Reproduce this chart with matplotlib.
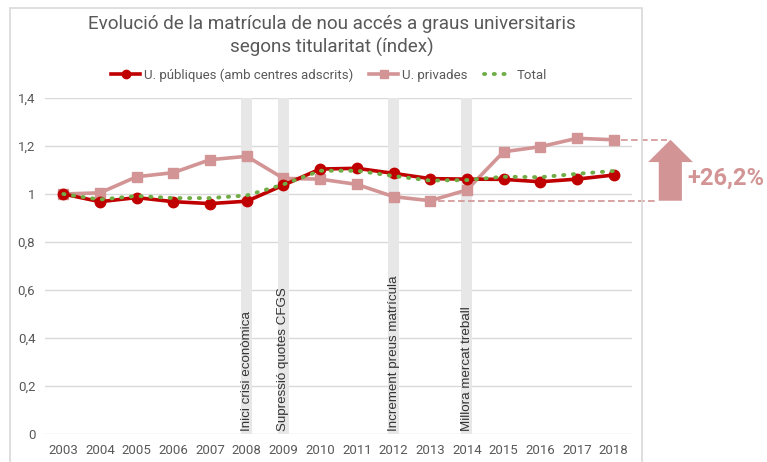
import matplotlib
matplotlib.use("Agg")
import matplotlib.pyplot as plt
from matplotlib.patches import Rectangle, Polygon

years = list(range(2003, 2019))
publiques = [1.0, 0.968, 0.985, 0.968, 0.96, 0.97, 1.037, 1.104, 1.107, 1.086, 1.064, 1.062, 1.061, 1.051, 1.062, 1.079]
privades = [1.0, 1.005, 1.072, 1.089, 1.143, 1.157, 1.065, 1.062, 1.04, 0.989, 0.972, 1.017, 1.176, 1.197, 1.232, 1.226]
total = [1.0, 0.977, 0.992, 0.983, 0.983, 0.994, 1.04, 1.097, 1.097, 1.075, 1.056, 1.058, 1.072, 1.07, 1.084, 1.096]
events = [2008, 2009, 2012, 2014]
event_labels = ["Inici crisi econòmica", "Supressió quotes CFGS", "Increment preus matrícula", "Millora mercat treball"]
yticks = [0, 0.2, 0.4, 0.6, 0.8, 1.0, 1.2, 1.4]
ytick_labels = ["0", "0,2", "0,4", "0,6", "0,8", "1", "1,2", "1,4"]
title = "Evolució de la matrícula de nou accés a graus universitaris\nsegons titularitat (índex)"
names = ["U. públiques (amb centres adscrits)", "U. privades", "Total"]
growth_label = "+26,2%"

plt.rcParams['font.family'] = ['Roboto', 'DejaVu Sans']

W, H = 767, 462
fig = plt.figure(figsize=(W / 100, H / 100), dpi=100)
fig.patch.set_facecolor("white")

# outer frame
fig.add_artist(Rectangle((10 / W, -0.05), (642 - 10) / W, 1.05 - 8 / H,
                         transform=fig.transFigure, fill=False,
                         edgecolor="#d9d9d9", lw=1.2))

ax = fig.add_axes([45 / W, 1 - 434 / H, (632 - 45) / W, (434 - 98) / H])
ax.set_xlim(2002.5, 2018.5)
ax.set_ylim(0, 1.4)
for s in ax.spines.values():
    s.set_visible(False)
ax.set_yticks(yticks)
ax.set_yticklabels(ytick_labels)
ax.set_xticks(years)
ax.set_xticklabels([str(y) for y in years])
ax.tick_params(axis="both", length=0, labelsize=9.5, colors="#595959")
ax.tick_params(axis="y", pad=7)
ax.tick_params(axis="x", pad=7)
ax.grid(axis="y", color="#d9d9d9", lw=1)
ax.set_axisbelow(True)

# event bars
for e, lab in zip(events, event_labels):
    ax.axvspan(e - 0.15, e + 0.15, ymin=0, ymax=1, color="#e7e7e7", lw=0, zorder=1)
    ax.text(e, 0.012, lab, rotation=90, ha="center", va="bottom",
            fontsize=9.6, color="#333333", zorder=2,
            family=["Liberation Sans", "DejaVu Sans"])

l1, = ax.plot(years, publiques, color="#C00000", lw=2.6, marker="o", ms=7.5, zorder=5,
              label=names[0])
l2, = ax.plot(years, privades, color="#D29494", lw=2.6, marker="s", ms=7, zorder=4,
              label=names[1])
l3, = ax.plot(years, total, color="#70AD47", lw=2.8, ls=(0, (0.3, 2.2)),
              dash_capstyle="round", zorder=6, label=names[2])

# annotation dashed lines
i13 = years.index(2013)
ax.plot([2018.2, 2019.45], [privades[-1], privades[-1]], color="#D29494", lw=1.2,
        ls=(0, (4, 2)), clip_on=False)
ax.plot([2013.2, 2019.13], [privades[i13], privades[i13]], color="#D29494", lw=1.2,
        ls=(0, (4, 2)), clip_on=False)

# arrow
tip = privades[-1]
base = privades[i13]
head = tip - 0.093
arrow = Polygon([(2019.23, base), (2019.23, head), (2018.94, head), (2019.55, tip),
                 (2020.16, head), (2019.86, head), (2019.86, base)],
                closed=True, facecolor="#D29494", edgecolor="none", clip_on=False, zorder=3)
ax.add_patch(arrow)
ax.text(2020.0, 1.067, growth_label, ha="left", va="center", fontsize=17,
        fontweight="bold", color="#D29494", clip_on=False)

fig.text(332 / W, 1 - 36 / H, title, ha="center", va="center", fontsize=13.6,
         color="#595959", linespacing=1.3)

fig.legend(handles=[l1, l2, l3], loc="center", bbox_to_anchor=(329 / W, 1 - 75 / H),
           ncol=3, frameon=False, fontsize=9.5, labelcolor="#595959",
           handlelength=2.2, handletextpad=0.3, columnspacing=1.2, markerscale=0.8)

fig.savefig("out.png", dpi=100)
